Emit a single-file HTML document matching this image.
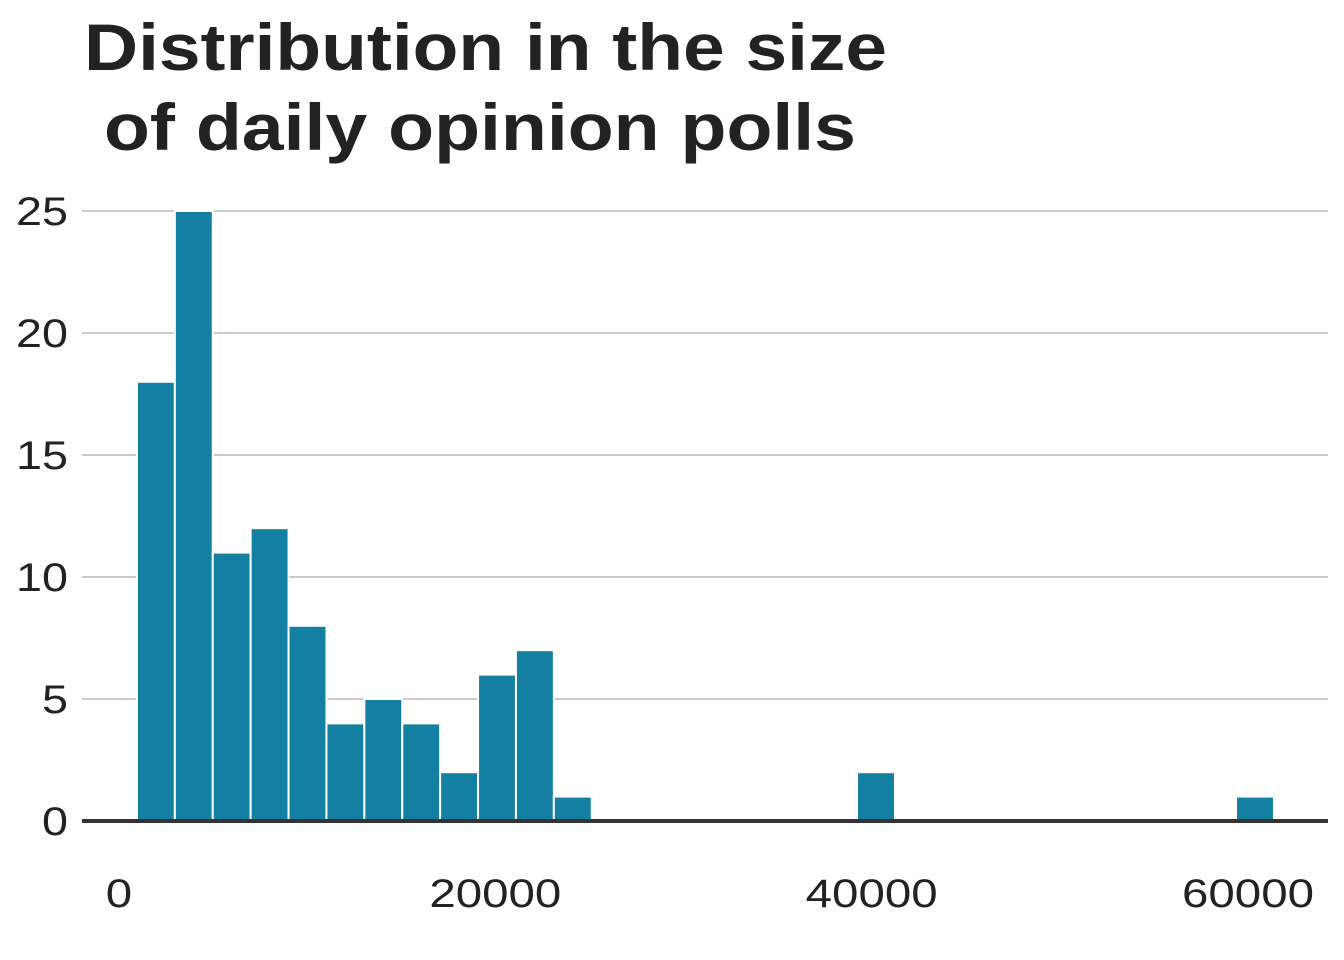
<!DOCTYPE html>
<html><head><meta charset="utf-8"><style>
body{margin:0;background:#fff;}
svg{display:block;font-family:"Liberation Sans",Arial,sans-serif;}
</style></head><body>
<svg id="chart" width="1344" height="960">
<text x="84" y="70" font-size="66" font-weight="bold" fill="#222" textLength="803" lengthAdjust="spacingAndGlyphs">Distribution in the size</text>
<text x="104" y="150" font-size="66" font-weight="bold" fill="#222" textLength="752" lengthAdjust="spacingAndGlyphs">of daily opinion polls</text>
<g id="grid"></g><g id="bars"></g><g id="axes"></g>
</svg>
<script>
const binCenters=[2000,4000,6000,8000,10000,12000,14000,16000,18000,20000,22000,24000,40000,60000];
const counts=[18,25,11,12,8,4,5,4,2,6,7,1,2,1];
const yTicks=[0,5,10,15,20,25];
const xTicks=[0,20000,40000,60000];
const binWidth=2000;
const ns="http://www.w3.org/2000/svg";
const xs=v=>119+v*(1248-119)/60000;
const xb=v=>118+v*0.01895;
const ys=v=>821-v*(821-211)/25;
function mk(t,a,p){const e=document.createElementNS(ns,t);for(const k in a)e.setAttribute(k,a[k]);p.appendChild(e);return e;}
const grid=document.getElementById('grid'),bars=document.getElementById('bars'),axes=document.getElementById('axes');
yTicks.forEach(t=>{
 const l=mk('line',{x1:82,x2:1328,y1:ys(t),y2:ys(t),stroke:'#cbcbcb','stroke-width':2},grid);
 
 
 const s=String(t);
 const tx=mk('text',{x:68,y:ys(t)+14,'font-size':40,fill:'#222','text-anchor':'end',textLength:26*s.length,lengthAdjust:'spacingAndGlyphs'},axes);
 tx.textContent=s;
 
 
});
binCenters.forEach((c,i)=>{
 const x0=xb(c-binWidth/2),x1=xb(c+binWidth/2);
 const r=mk('rect',{x:x0,y:ys(counts[i]),width:x1-x0,height:ys(0)-ys(counts[i]),fill:'#1380A1',stroke:'#fff','stroke-width':2},bars);
 
 
});
const b=mk('line',{x1:82,x2:1328,y1:ys(0),y2:ys(0),stroke:'#333','stroke-width':4},axes);


xTicks.forEach(t=>{
 const s=String(t);
 const tx=mk('text',{x:xs(t),y:907,'font-size':40,fill:'#222','text-anchor':'middle',textLength:26.4*s.length,lengthAdjust:'spacingAndGlyphs'},axes);
 tx.textContent=s;
 
 
});
</script>
</body></html>
